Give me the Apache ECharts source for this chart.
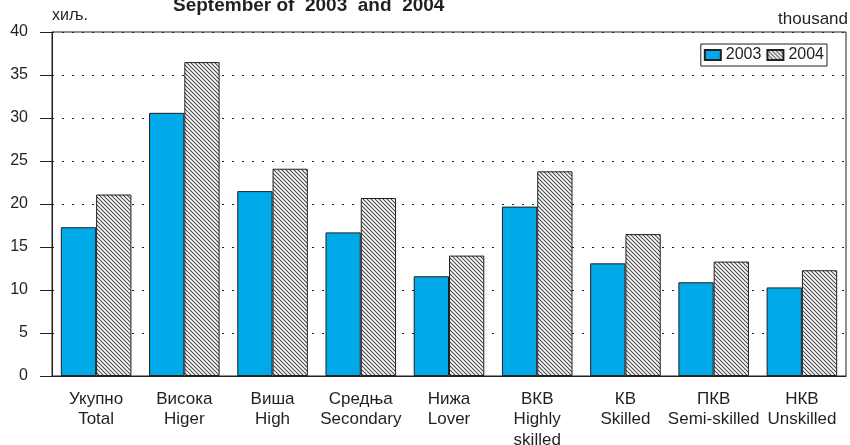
<!DOCTYPE html>
<html>
<head>
<meta charset="utf-8">
<script src="https://cdn.jsdelivr.net/npm/echarts@6/dist/echarts.min.js"></script>
<style>
  html, body { margin: 0; padding: 0; background: #fff; }
  #chart { width: 850px; height: 445px; }
</style>
</head>
<body>
<div id="chart"></div>
<script>
// категорије (ћирилица + енглески)
const categories = [
  'Укупно\nTotal', 'Висока\nHiger', 'Виша\nHigh', 'Средња\nSecondary', 'Нижа\nLover',
  'ВКВ\nHighly\nskilled', 'КВ\nSkilled', 'ПКВ\nSemi-skilled', 'НКВ\nUnskilled'
];
const values2003 = [17.3, 30.6, 21.5, 16.7, 11.6, 19.7, 13.1, 10.9, 10.3];
const values2004 = [21.1, 36.5, 24.1, 20.7, 14.0, 23.8, 16.5, 13.3, 12.3];
const seriesNames = ['2003', '2004'];

const ink = '#231f20';
const font = 'Liberation Sans, Arial, sans-serif';

// шрафура за 2004
function hatch() {
  const c = document.createElement('canvas');
  c.width = 4; c.height = 4;
  const g = c.getContext('2d');
  g.fillStyle = '#fff';
  g.fillRect(0, 0, 4, 4);
  g.strokeStyle = '#4a4a4a';
  g.lineWidth = 1.1;
  g.beginPath();
  g.moveTo(-1, -1); g.lineTo(5, 5);
  g.moveTo(-1, 3); g.lineTo(1, 5);
  g.moveTo(3, -1); g.lineTo(5, 1);
  g.stroke();
  return c;
}

const chart = echarts.init(document.getElementById('chart'));

chart.setOption({
  animation: false,
  textStyle: { fontFamily: font, color: ink },
  title: {
    text: 'September of  2003  and  2004',
    left: 168,
    top: -9,
    textStyle: { fontSize: 19, fontWeight: 'bold', color: ink, fontFamily: font }
  },
  graphic: [
    { type: 'text', left: 52, top: 8, style: { text: 'хиљ.', fontSize: 16, fill: ink, fontFamily: font } },
    { type: 'text', right: 2, top: 11, style: { text: 'thousand', fontSize: 17, fill: ink, fontFamily: font } }
  ],
  legend: {
    right: 23,
    top: 44,
    orient: 'horizontal',
    icon: 'rect',
    itemWidth: 16,
    itemHeight: 10,
    itemGap: 5,
    padding: [3, 3, 3, 3],
    borderColor: ink,
    borderWidth: 1,
    textStyle: { fontSize: 16, color: ink },
    data: seriesNames
  },
  grid: {
    left: 52,
    right: 4,
    top: 32,
    bottom: 69,
    outerBoundsMode: 'none',
    containLabel: false,
    show: true,
    borderColor: ink,
    borderWidth: 1
  },
  xAxis: {
    type: 'category',
    data: categories,
    axisLine: { show: true, lineStyle: { color: ink, width: 1 } },
    axisTick: { show: false },
    axisLabel: {
      interval: 0,
      fontSize: 17,
      lineHeight: 20.5,
      margin: 13,
      color: ink
    }
  },
  yAxis: {
    type: 'value',
    min: 0,
    max: 40,
    interval: 5,
    axisLine: { show: true, lineStyle: { color: ink, width: 1 } },
    axisTick: { show: true, length: 12, lineStyle: { color: ink } },
    axisLabel: { fontSize: 16, color: ink, margin: 24 },
    splitLine: {
      show: true,
      lineStyle: { color: ink, type: [2, 8], width: 1 }
    }
  },
  series: [
    {
      name: seriesNames[0],
      type: 'bar',
      data: values2003,
      barGap: '0%',
      barCategoryGap: '20%',
      itemStyle: { color: '#00a9e8', borderColor: ink, borderWidth: 1 }
    },
    {
      name: seriesNames[1],
      type: 'bar',
      data: values2004,
      itemStyle: {
        color: { image: hatch(), repeat: 'repeat' },
        borderColor: ink,
        borderWidth: 1
      }
    }
  ]
});
</script>
</body>
</html>
